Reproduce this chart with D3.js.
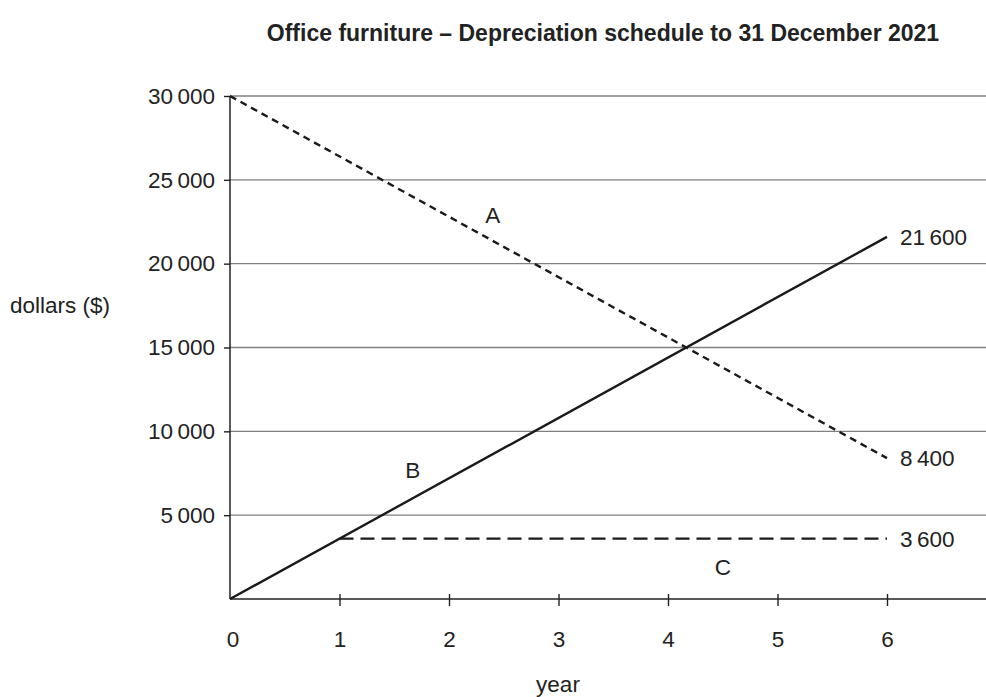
<!DOCTYPE html>
<html>
<head>
<meta charset="utf-8">
<script src="https://cdn.jsdelivr.net/npm/d3@7"></script>
<style>
  body { margin: 0; background: #fff; }
  svg { display: block; font-family: "Liberation Sans", Arial, sans-serif; }
</style>
</head>
<body>
<div id="chart"></div>
<script>
// data
const years = [0, 1, 2, 3, 4, 5, 6];
const yTicks = [5000, 10000, 15000, 20000, 25000, 30000];
const lineA = [{x: 0, y: 30000}, {x: 6, y: 8400}];   // dashed, short
const lineB = [{x: 0, y: 0}, {x: 6, y: 21600}];      // solid
const lineC = [{x: 1, y: 3600}, {x: 6, y: 3600}];    // dashed, long
const endLabels = [
    {x: 6, y: 21600, text: '21\u2009600'},
    {x: 6, y: 8400, text: '8\u2009400'},
    {x: 6, y: 3600, text: '3\u2009600'}
];
const seriesLabels = [
    {x: 2.4, y: 22900, text: 'A'},
    {x: 1.67, y: 7700, text: 'B'},
    {x: 4.5, y: 1900, text: 'C'}
];

const outerWidth = 986, outerHeight = 697;
const fs = 22.5;
const fmt = (v) => d3.format(',')(v).replace(',', '\u2009');

const svg = d3.select('#chart').append('svg')
    .attr('width', outerWidth)
    .attr('height', outerHeight);

const x = d3.scaleLinear().domain([0, 6]).range([230, 887]);
const y = d3.scaleLinear().domain([0, 30000]).range([599, 96]);

// title
svg.append('text')
    .attr('x', 603).attr('y', 41)
    .attr('text-anchor', 'middle')
    .attr('font-weight', 'bold')
    .attr('font-size', 23)
    .attr('fill', '#222')
    .text('Office furniture \u2013 Depreciation schedule to 31 December 2021');

// grid lines
svg.append('g').selectAll('line')
    .data(yTicks).join('line')
    .attr('x1', x(0)).attr('x2', outerWidth)
    .attr('y1', d => y(d)).attr('y2', d => y(d))
    .attr('stroke', '#808080')
    .attr('stroke-width', 1.4);

// y axis
const yAxis = d3.axisLeft(y).tickValues(yTicks).tickSize(6).tickPadding(9).tickFormat(fmt);
const gy = svg.append('g')
    .attr('transform', `translate(${x(0)},0)`)
    .call(yAxis);
gy.select('.domain').attr('stroke', '#222').attr('stroke-width', 1.5)
    .attr('d', `M0,${y(0)}V${y(30000)}`);
gy.selectAll('.tick line').attr('stroke', '#222').attr('stroke-width', 1.4);
gy.selectAll('.tick text')
    .attr('font-size', fs).attr('fill', '#222')
    .attr('font-family', '"Liberation Sans", Arial, sans-serif');

// x axis
const xAxis = d3.axisBottom(x).tickValues(years.slice(1)).tickSize(7).tickPadding(25)
    .tickFormat(d3.format('d'));
const gx = svg.append('g')
    .attr('transform', `translate(0,${y(0)})`)
    .call(xAxis);
gx.select('.domain').attr('stroke', '#222').attr('stroke-width', 1.5)
    .attr('d', `M${x(0)},0H${outerWidth}`);
gx.selectAll('.tick line').attr('stroke', '#222').attr('stroke-width', 1.4).attr('y1', -5);
gx.selectAll('.tick text')
    .attr('font-size', fs).attr('fill', '#222')
    .attr('font-family', '"Liberation Sans", Arial, sans-serif');
// zero label (no tick mark at the origin)
gx.append('text')
    .attr('x', x(0) + 3).attr('y', 32).attr('dy', '0.71em')
    .attr('text-anchor', 'middle')
    .attr('font-size', fs).attr('fill', '#222')
    .text(years[0]);

// axis titles
svg.append('text')
    .attr('x', 10).attr('y', 313)
    .attr('font-size', fs).attr('fill', '#222')
    .text('dollars ($)');
svg.append('text')
    .attr('x', 558).attr('y', 692)
    .attr('text-anchor', 'middle')
    .attr('font-size', fs).attr('fill', '#222')
    .text('year');

// series
const line = d3.line().x(d => x(d.x)).y(d => y(d.y));
svg.append('path').datum(lineA)
    .attr('d', line).attr('fill', 'none')
    .attr('stroke', '#1a1a1a').attr('stroke-width', 2.4)
    .attr('stroke-dasharray', '7,5');
svg.append('path').datum(lineB)
    .attr('d', line).attr('fill', 'none')
    .attr('stroke', '#1a1a1a').attr('stroke-width', 2.4);
svg.append('path').datum(lineC)
    .attr('d', line).attr('fill', 'none')
    .attr('stroke', '#1a1a1a').attr('stroke-width', 2.4)
    .attr('stroke-dasharray', '14,7');

// end value labels
svg.append('g').selectAll('text')
    .data(endLabels).join('text')
    .attr('x', d => x(d.x) + 13)
    .attr('y', d => y(d.y))
    .attr('dy', '0.36em')
    .attr('font-size', fs).attr('fill', '#222')
    .text(d => d.text);

// series letters
svg.append('g').selectAll('text')
    .data(seriesLabels).join('text')
    .attr('x', d => x(d.x))
    .attr('y', d => y(d.y))
    .attr('dy', '0.36em')
    .attr('text-anchor', 'middle')
    .attr('font-size', fs).attr('fill', '#222')
    .text(d => d.text);
</script>
</body>
</html>
